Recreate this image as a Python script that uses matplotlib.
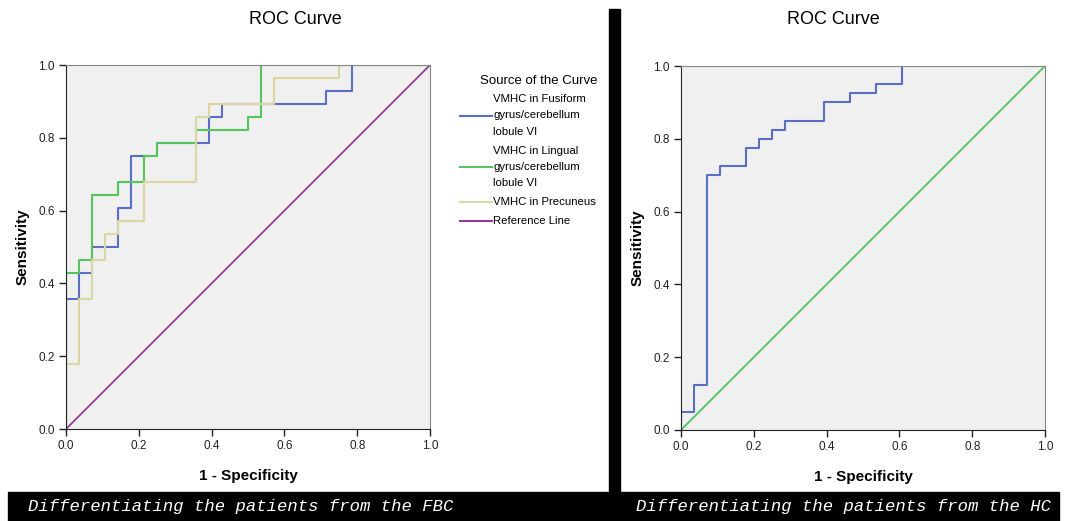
import matplotlib.pyplot as plt
from matplotlib.lines import Line2D
from matplotlib.patches import Rectangle

# ROC step points (false positive rate, true positive rate), drawn with steps-pre
fbc_fpr_fusiform = [0, 0.036, 0.071, 0.143, 0.179, 0.25, 0.393, 0.429, 0.714, 0.786, 1.0]
fbc_tpr_fusiform = [0, 0.357, 0.429, 0.5, 0.607, 0.75, 0.786, 0.857, 0.893, 0.929, 1.0]

fbc_fpr_lingual = [0, 0.036, 0.071, 0.143, 0.214, 0.25, 0.357, 0.5, 0.536, 1.0]
fbc_tpr_lingual = [0, 0.429, 0.464, 0.643, 0.679, 0.75, 0.786, 0.821, 0.857, 1.0]

fbc_fpr_precuneus = [0, 0.036, 0.071, 0.107, 0.143, 0.214, 0.357, 0.393, 0.571, 0.75, 1.0]
fbc_tpr_precuneus = [0, 0.179, 0.357, 0.464, 0.536, 0.571, 0.679, 0.857, 0.893, 0.964, 1.0]

hc_fpr = [0, 0.036, 0.071, 0.107, 0.179, 0.214, 0.25, 0.286, 0.393, 0.464, 0.536, 0.607, 1.0]
hc_tpr = [0, 0.05, 0.125, 0.7, 0.725, 0.775, 0.8, 0.825, 0.85, 0.9, 0.925, 0.95, 1.0]

ref_line = [0, 1]
ticks = [0.0, 0.2, 0.4, 0.6, 0.8, 1.0]
tick_labels = ["0.0", "0.2", "0.4", "0.6", "0.8", "1.0"]

labels = [
    ["VMHC in Fusiform", "gyrus/cerebellum", "lobule VI"],
    ["VMHC in Lingual", "gyrus/cerebellum", "lobule VI"],
    ["VMHC in Precuneus"],
    ["Reference Line"],
]
captions = ["Differentiating the patients from the FBC",
            "Differentiating the patients from the HC"]

blue = "#5a6ec4"
green = "#55c45e"
beige = "#dcd7a2"
purple = "#993a99"

plt.rcParams['font.family'] = ['Liberation Sans', 'DejaVu Sans']

fig = plt.figure(figsize=(10.65, 5.21), dpi=100)
W, H = 1065, 521


def make_axes(x0, y_top):
    ax = fig.add_axes([x0 / W, (H - y_top - 364) / H, 364 / W, 364 / H])
    ax.set_facecolor("#f0f0f0")
    ax.set_xlim(0, 1)
    ax.set_ylim(0, 1)
    ax.set_xticks(ticks)
    ax.set_xticklabels(tick_labels)
    ax.set_yticks(ticks)
    ax.set_yticklabels(tick_labels)
    ax.tick_params(direction="out", length=5, width=1, labelsize=8.5, colors="#222222", pad=3)
    for side in ["top", "right"]:
        ax.spines[side].set_color("#888888")
    for side in ["left", "bottom"]:
        ax.spines[side].set_color("#222222")
    ax.set_xlabel("1 - Specificity", fontsize=11, fontweight="bold", labelpad=12)
    ax.set_ylabel("Sensitivity", fontsize=11, fontweight="bold", labelpad=6)
    return ax


ax1 = make_axes(66, 65)
h1, = ax1.plot(fbc_fpr_fusiform, fbc_tpr_fusiform, drawstyle="steps-pre", color=blue, lw=1.5)
h2, = ax1.plot(fbc_fpr_lingual, fbc_tpr_lingual, drawstyle="steps-pre", color=green, lw=1.5)
h3, = ax1.plot(fbc_fpr_precuneus, fbc_tpr_precuneus, drawstyle="steps-pre", color=beige, lw=1.5)
h4, = ax1.plot(ref_line, ref_line, color=purple, lw=1.3)

ax2 = make_axes(681, 66)
ax2.plot(hc_fpr, hc_tpr, drawstyle="steps-pre", color=blue, lw=1.5)
ax2.plot(ref_line, ref_line, color=green, lw=1.3)

fig.text(295 / W, 1 - 20 / H, "ROC Curve", ha="center", va="center", fontsize=13)
fig.text(833 / W, 1 - 20 / H, "ROC Curve", ha="center", va="center", fontsize=13)

# legend drawn by hand, SPSS style (line handle centred on a multi-line label)
fig.text(480 / W, 1 - 81 / H, "Source of the Curve", fontsize=9.5, va="center")
y = 99
for handle, lines in zip([h1, h2, h3, h4], labels):
    ys = []
    for line in lines:
        fig.text(493 / W, 1 - y / H, line, fontsize=8.2, va="center")
        ys.append(y)
        y += 16.5
    y += 2
    ym = 1 - (sum(ys) / len(ys)) / H
    fig.add_artist(Line2D([460 / W, 492 / W], [ym, ym], color=handle.get_color(),
                          lw=1.5, transform=fig.transFigure))

# divider bar and caption band
fig.patches.append(Rectangle((609 / W, 1 - 492 / H), 11 / W, 483 / H,
                             transform=fig.transFigure, color="black"))
fig.patches.append(Rectangle((8 / W, 0), 1051 / W, 29 / H,
                             transform=fig.transFigure, color="black"))
fig.text(28 / W, 14 / H, captions[0], color="white", fontsize=12.4,
         family="Liberation Mono", style="italic", va="center")
fig.text(636 / W, 14 / H, captions[1], color="white", fontsize=12.4,
         family="Liberation Mono", style="italic", va="center")

fig.savefig("out.png", dpi=100)
